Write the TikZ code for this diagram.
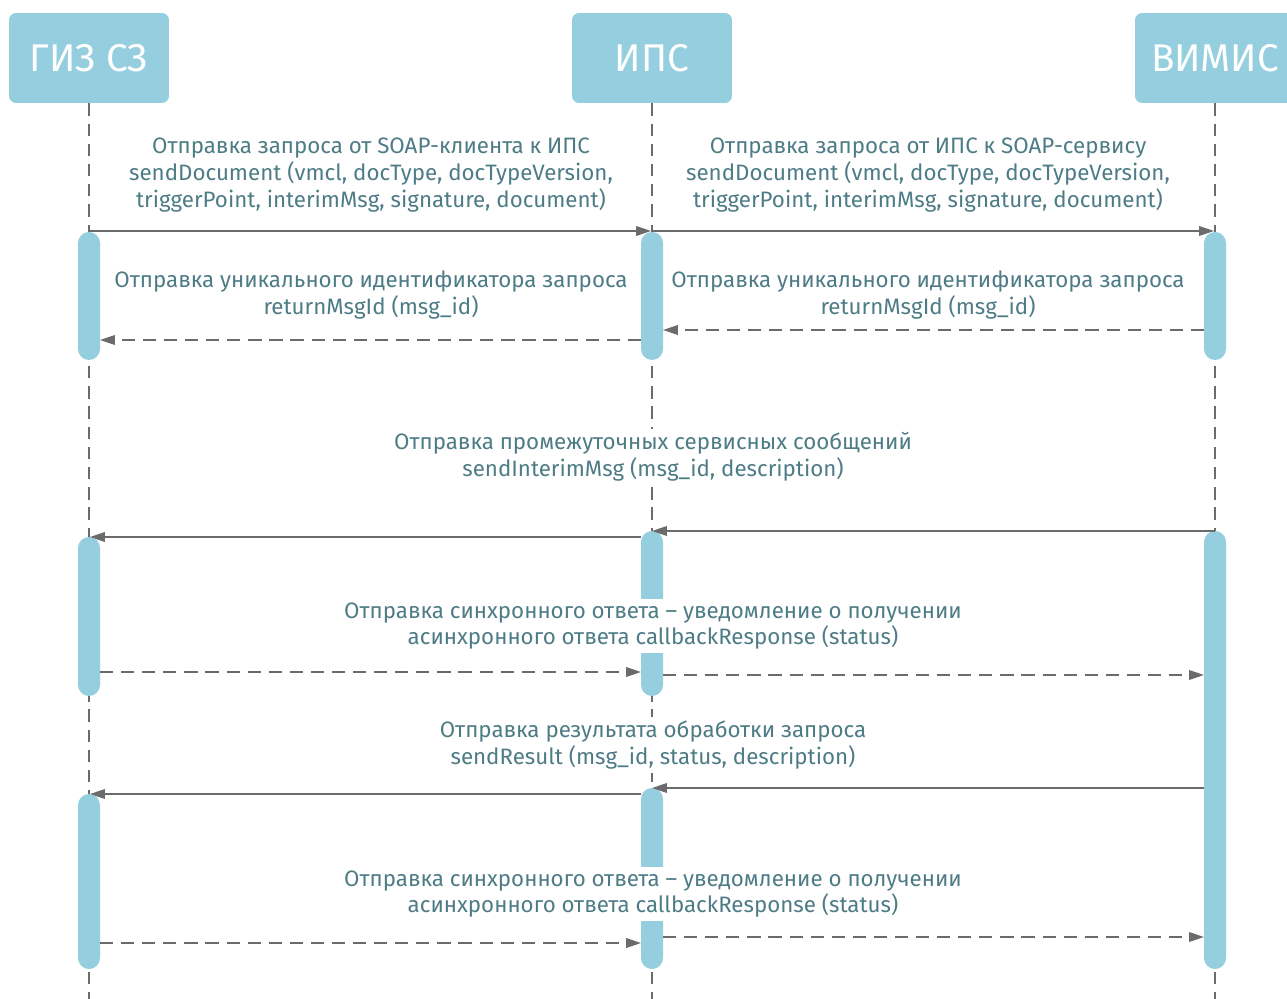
\documentclass[tikz,border=0pt]{standalone}
\usepackage{fontspec}
\setmainfont{Fira Sans}
\usetikzlibrary{arrows.meta}
\definecolor{boxcol}{HTML}{95CFDF}
\definecolor{labcol}{HTML}{4E7C86}
\definecolor{arrcol}{HTML}{6B6B6B}
\newcommand{\headtext}[1]{\raisebox{-0.06cm}{#1}}
\begin{document}
\begin{tikzpicture}[x=0.02cm,y=-0.02cm,
    head/.style={fill=boxcol,rounded corners=4pt,minimum width=3.2cm,minimum height=1.8cm,
        text=white,font=\fontsize{22}{22}\selectfont},
    lifeline/.style={arrcol,line width=0.6pt,dash pattern=on 7pt off 4.5pt},
    actbar/.style={fill=boxcol,rounded corners=0.22cm},
    msg/.style={arrcol,line width=0.85pt,-{Triangle[length=8.5pt,width=5.5pt]}},
    reply/.style={msg,dash pattern=on 7.5pt off 4.5pt},
    lab/.style={fill=white,inner sep=2pt,align=center,text=labcol,
        font=\fontsize{12.7}{15.3}\selectfont}]
\useasboundingbox[fill=white] (0,0) rectangle (1287,999);
% participants
\node[head] (giz) at (89,58) {\headtext{ГИЗ СЗ}};
\node[head] (ips) at (652,58) {\headtext{ИПС}};
\node[head] (vimis) at (1215,58) {\headtext{ВИМИС}};
\foreach \n in {giz,ips,vimis}
    \draw[lifeline] (\n.south) -- ++(0,896);
% activation bars
\foreach \x/\t/\b in {89/232/360,652/232/360,1215/232/360,89/537/696,652/531/696,
        1215/531/969,89/794/969,652/788/969}
    \fill[actbar] (\x-11,\t) rectangle (\x+11,\b);
% labels
\node[lab] (l1) at (371,175) {Отправка запроса от SOAP-клиента к ИПС\\
    sendDocument (vmcl, docType, docTypeVersion,\\triggerPoint, interimMsg, signature, document)};
\node[lab] (l2) at (928,175) {Отправка запроса от ИПС к SOAP-сервису\\
    sendDocument (vmcl, docType, docTypeVersion,\\triggerPoint, interimMsg, signature, document)};
\node[lab] (l3) at (371,295) {Отправка уникального идентификатора запроса\\returnMsgId (msg\_id)};
\node[lab] (l4) at (928,295) {Отправка уникального идентификатора запроса\\returnMsgId (msg\_id)};
\node[lab] (l5) at (653,457) {Отправка промежуточных сервисных сообщений\\
    sendInterimMsg (msg\_id, description)};
\node[lab] (l6) at (653,626) {Отправка синхронного ответа – уведомление о получении\\
    асинхронного ответа callbackResponse (status)};
\node[lab] (l7) at (653,745) {Отправка результата обработки запроса\\
    sendResult (msg\_id, status, description)};
\node[lab] (l8) at (653,894) {Отправка синхронного ответа – уведомление о получении\\
    асинхронного ответа callbackResponse (status)};
% message ends
\foreach \nm/\x/\y in {m1a/89/231,m1b/651/231,m2a/652/231,m2b/1214/231,
        r1a/1204/330,r1b/663/330,r2a/641/340,r2b/100/340,
        i1a/1215/531,i1b/652/531,i2a/641/537,i2b/90/537,
        c1a/100/672,c1b/641/672,c2a/663/675,c2b/1204/675,
        s1a/1204/788,s1b/652/788,s2a/641/794,s2b/90/794,
        c3a/100/943,c3b/641/943,c4a/663/937,c4b/1204/937}
    \coordinate (\nm) at (\x,\y);
% messages
\draw[msg] (m1a) -- (m1b);
\draw[msg] (m2a) -- (m2b);
\draw[reply] (r1a) -- (r1b);
\draw[reply] (r2a) -- (r2b);
\draw[msg] (i1a) -- (i1b);
\draw[msg] (i2a) -- (i2b);
\draw[reply] (c1a) -- (c1b);
\draw[reply] (c2a) -- (c2b);
\draw[msg] (s1a) -- (s1b);
\draw[msg] (s2a) -- (s2b);
\draw[reply] (c3a) -- (c3b);
\draw[reply] (c4a) -- (c4b);
\end{tikzpicture}
\end{document}
